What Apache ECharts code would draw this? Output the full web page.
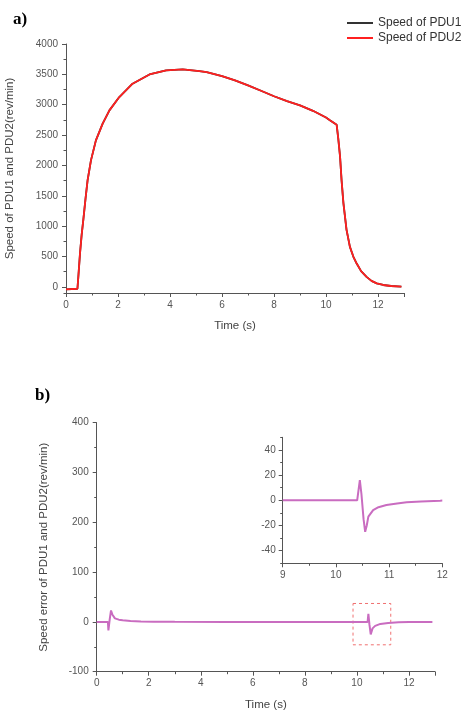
<!DOCTYPE html>
<html>
<head>
<meta charset="utf-8">
<script src="https://cdn.jsdelivr.net/npm/echarts@6/dist/echarts.min.js"></script>
<style>
html,body{margin:0;padding:0;background:#fff;}
#c{width:462px;height:712px;}
</style>
</head>
<body>
<div id="c"></div>
<script>
// ---- chart a) speed of PDU1 / PDU2 ----
var timeA  = [0, 0.44, 0.48, 0.54, 0.6, 0.67, 0.75, 0.83, 0.96, 1.15, 1.41, 1.67, 2.05, 2.56, 3.21, 3.85, 4.49, 5.13, 5.41, 6.0, 6.5, 7.0, 7.5, 8.0, 8.5, 9.0, 9.5, 10.0, 10.15, 10.41, 10.47, 10.54, 10.6, 10.67, 10.79, 10.92, 11.05, 11.18, 11.35, 11.56, 11.75, 11.95, 12.2, 12.5, 12.9];
var speedA = [-40, -30, 200, 560, 850, 1120, 1450, 1755, 2084, 2413, 2688, 2907, 3126, 3346, 3499, 3565, 3581, 3553, 3537, 3470, 3400, 3320, 3230, 3140, 3060, 2990, 2900, 2790, 2745, 2670, 2450, 2150, 1750, 1380, 940, 660, 500, 385, 260, 165, 100, 58, 32, 15, 5];
var yTicksA = [0, 500, 1000, 1500, 2000, 2500, 3000, 3500, 4000];
var yMinorA = [-100, 250, 750, 1250, 1750, 2250, 2750, 3250, 3750];
var seriesNamesA = ['Speed of PDU1', 'Speed of PDU2'];

// ---- chart b) speed error ----
var timeB = [0, 0.43, 0.45, 0.5, 0.55, 0.6, 0.7, 0.85, 1.0, 1.3, 1.7, 2.2, 3.0, 5.0, 8.0, 10.0, 10.41, 10.44, 10.48, 10.53, 10.6, 10.7, 10.9, 11.2, 11.6, 12.0, 12.9];
var errB  = [0, 0, -17, 5, 23, 15, 7, 4.5, 3.4, 2, 1, 0.5, 0.2, 0, 0, 0, 0, 16, -5, -25, -13, -8, -4, -2, -0.8, -0.3, 0];
var zoomBox = [[9.85, 37], [11.3, -46]];

// ---- inset (zoom 9..12 s) ----
var timeI = [9, 10.4, 10.42, 10.45, 10.48, 10.52, 10.55, 10.58, 10.61, 10.7, 10.8, 10.95, 11.15, 11.33, 11.6, 11.96, 12];
var errI  = [0, 0, 0.5, 16, 5, -15, -25, -20, -13, -7.8, -5.5, -3.8, -2.5, -1.6, -0.9, -0.3, -0.2];
var yTicksI = [-40, -20, 0, 20, 40];
var yMinorI = [-50, -30, -10, 10, 30, 50];

function pairs(xs, ys) { return xs.map(function (x, i) { return [x, ys[i]]; }); }

var FONT = 'Liberation Sans';
var axisCol = '#555';
var plain = function (v) { return String(v); };
var lblStyle = { color: '#555', fontSize: 10, fontFamily: FONT, formatter: plain };
var nameStyle = { color: '#444', fontSize: 11.5, fontFamily: FONT };

function xAxisCfg(grid, min, max, interval, name, showMax) {
  return {
    type: 'value', gridIndex: grid, min: min, max: max, interval: interval,
    axisLine: { show: true, onZero: false, lineStyle: { color: axisCol, width: 1 } },
    axisTick: { show: true, inside: false, length: 4, lineStyle: { color: axisCol } },
    minorTick: { show: true, splitNumber: 2, length: 2.5, lineStyle: { color: axisCol } },
    splitLine: { show: false },
    axisLabel: Object.assign({ margin: 7, showMaxLabel: showMax }, lblStyle),
    name: name, nameLocation: 'middle', nameGap: 27, nameTextStyle: nameStyle
  };
}

var chart = echarts.init(document.getElementById('c'), null, { renderer: 'canvas' });

var option = {
  animation: false,
  backgroundColor: '#fff',
  graphic: [
    { type: 'text', left: 13, top: 11, style: { text: 'a)', font: 'bold 17px "Liberation Serif"', fill: '#000' } },
    { type: 'text', left: 35, top: 387, style: { text: 'b)', font: 'bold 17px "Liberation Serif"', fill: '#000' } }
  ],
  legend: {
    data: seriesNamesA, orient: 'vertical', left: 342, top: 12, padding: 5,
    icon: 'rect', itemWidth: 26, itemHeight: 2, itemGap: 3,
    textStyle: { color: '#333', fontSize: 12, fontFamily: FONT }
  },
  grid: [
    { left: 66, right: 58, top: 44, bottom: 419, outerBoundsMode: 'none', containLabel: false },
    { left: 96.7, right: 27, top: 422.7, bottom: 40.3, outerBoundsMode: 'none', containLabel: false },
    { left: 282.7, right: 19.7, top: 437.3, bottom: 148.7, outerBoundsMode: 'none', containLabel: false }
  ],
  xAxis: [
    xAxisCfg(0, 0, 13, 2, 'Time (s)', false),
    xAxisCfg(1, 0, 13, 2, 'Time (s)', false),
    xAxisCfg(2, 9, 12, 1, '', true)
  ],
  yAxis: [
    { // a major
      type: 'value', gridIndex: 0, min: -100, max: 4000, position: 'left',
      axisLine: { show: true, onZero: false, lineStyle: { color: axisCol } },
      axisTick: { show: true, length: 4, customValues: yTicksA, lineStyle: { color: axisCol } },
      axisLabel: Object.assign({ margin: 8, customValues: yTicksA }, lblStyle),
      splitLine: { show: false },
      name: 'Speed of PDU1 and PDU2(rev/min)', nameLocation: 'middle', nameGap: 50, nameTextStyle: nameStyle
    },
    { // a minor
      type: 'value', gridIndex: 0, min: -100, max: 4000, position: 'left',
      axisLine: { show: false, onZero: false },
      axisTick: { show: true, length: 2.5, customValues: yMinorA, lineStyle: { color: axisCol } },
      axisLabel: { show: false },
      splitLine: { show: false }
    },
    { // b main
      type: 'value', gridIndex: 1, min: -100, max: 400, interval: 100, position: 'left',
      axisLine: { show: true, onZero: false, lineStyle: { color: axisCol } },
      axisTick: { show: true, length: 4, lineStyle: { color: axisCol } },
      minorTick: { show: true, splitNumber: 2, length: 2.5, lineStyle: { color: axisCol } },
      axisLabel: Object.assign({ margin: 8 }, lblStyle),
      splitLine: { show: false },
      name: 'Speed error of PDU1 and PDU2(rev/min)', nameLocation: 'middle', nameGap: 47, nameTextStyle: nameStyle
    },
    { // inset major
      type: 'value', gridIndex: 2, min: -50, max: 50, position: 'left',
      axisLine: { show: true, onZero: false, lineStyle: { color: axisCol } },
      axisTick: { show: true, length: 4, customValues: yTicksI, lineStyle: { color: axisCol } },
      axisLabel: Object.assign({ margin: 7, customValues: yTicksI }, lblStyle),
      splitLine: { show: false }
    },
    { // inset minor
      type: 'value', gridIndex: 2, min: -50, max: 50, position: 'left',
      axisLine: { show: false, onZero: false },
      axisTick: { show: true, length: 2.5, customValues: yMinorI, lineStyle: { color: axisCol } },
      axisLabel: { show: false },
      splitLine: { show: false }
    }
  ],
  series: [
    {
      name: seriesNamesA[0], type: 'line', xAxisIndex: 0, yAxisIndex: 0,
      data: pairs(timeA, speedA), showSymbol: false, color: '#333',
      lineStyle: { width: 1.8, color: '#333' }
    },
    {
      name: seriesNamesA[1], type: 'line', xAxisIndex: 0, yAxisIndex: 0,
      data: pairs(timeA, speedA), showSymbol: false, color: '#ff2020',
      lineStyle: { width: 1.8, color: '#ff2020' }
    },
    {
      name: 'error', type: 'line', xAxisIndex: 1, yAxisIndex: 2,
      data: pairs(timeB, errB), showSymbol: false,
      lineStyle: { width: 2, color: '#c96cc0' },
      markArea: {
        silent: true,
        itemStyle: { color: 'rgba(0,0,0,0)', borderColor: '#f07070', borderWidth: 1, borderType: [3, 3] },
        data: [[{ coord: zoomBox[0] }, { coord: zoomBox[1] }]]
      }
    },
    {
      name: 'errorInset', type: 'line', xAxisIndex: 2, yAxisIndex: 3,
      data: pairs(timeI, errI), showSymbol: false,
      lineStyle: { width: 2, color: '#c96cc0' }
    }
  ]
};
chart.setOption(option);
</script>
</body>
</html>
